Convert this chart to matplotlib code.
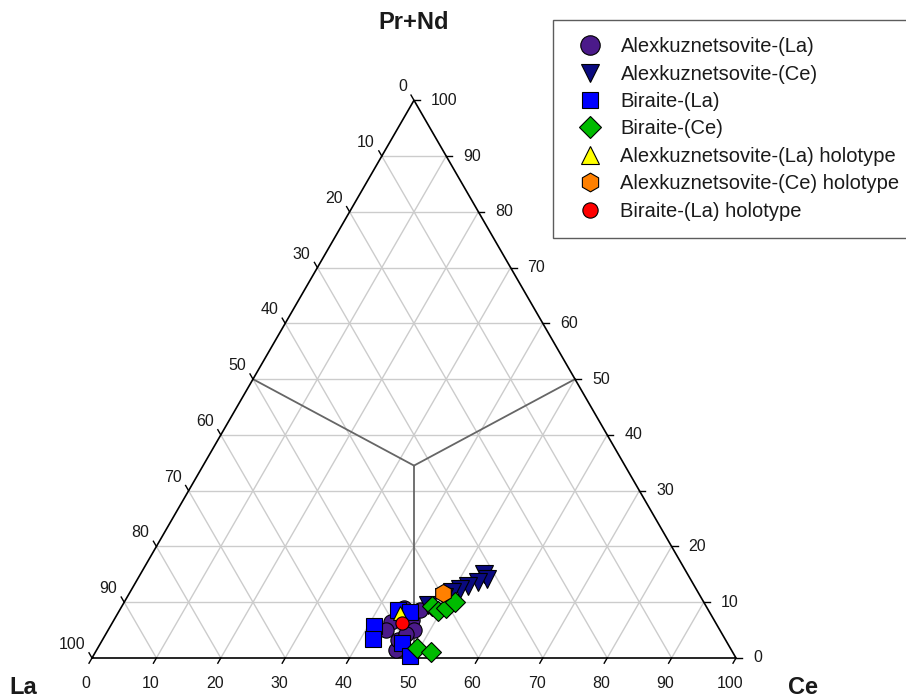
import numpy as np
import matplotlib
matplotlib.use("Agg")
import matplotlib.pyplot as plt
from matplotlib.lines import Line2D

plt.rcParams['font.family'] = ['Liberation Sans', 'DejaVu Sans']

# ---- data (La, Ce, Pr+Nd in %) ----
akLa_La = [50.3, 52.1, 46.9, 47.5, 47.1, 44.8, 50.9, 49.1, 51.8]
akLa_Ce = [43.2, 46.5, 46.3, 47.5, 43.9, 46.6, 45.9, 46.6, 43.2]
akLa_PN = [6.5, 1.4, 6.8, 5.0, 9.0, 8.6, 3.2, 4.3, 5.0]

akCe_La = [31.6, 31.6, 33.3, 35.2, 36.7, 38.2, 39.9, 43.1]
akCe_Ce = [53.3, 54.2, 53.1, 51.9, 50.9, 50.0, 49.2, 47.4]
akCe_PN = [15.1, 14.2, 13.6, 12.9, 12.4, 11.8, 10.9, 9.5]

biLa_La = [53.4, 54.7, 48.2, 46.5, 50.5, 50.4]
biLa_Ce = [40.9, 41.9, 43.2, 45.3, 46.8, 49.2]
biLa_PN = [5.7, 3.4, 8.6, 8.2, 2.7, 0.4]

biCe_La = [42.6, 42.1, 40.5, 38.6, 48.6, 46.8]
biCe_Ce = [48.1, 49.5, 50.5, 51.4, 49.6, 52.1]
biCe_PN = [9.3, 8.4, 9.0, 10.0, 1.8, 1.1]

hAkLa = (48.1, 43.8, 8.1)
hAkCe = (39.7, 48.7, 11.6)
hBiLa = (48.7, 45.0, 6.3)

ticks = list(range(0, 101, 10))
divide_center = (32.75, 32.75, 34.5)

H = np.sqrt(3) / 2


def tern(la, ce, pn):
    la = np.asarray(la, float); ce = np.asarray(ce, float); pn = np.asarray(pn, float)
    s = la + ce + pn
    return (ce + pn / 2) / s, pn / s * H


W, HH = 906, 699
fig = plt.figure(figsize=(W / 100, HH / 100), dpi=100)
ax = fig.add_axes([0, 0, 1, 1])
scale = 644.0
x0px, y0px = 92.0, 41.0
ax.set_xlim(-x0px / scale, (W - x0px) / scale)
ax.set_ylim(-y0px / scale, (HH - y0px) / scale)
ax.axis('off')

grid_c = '#cccccc'
for v in range(10, 100, 10):
    x, y = tern([100 - v, 0], [0, 100 - v], [v, v])
    ax.plot(x, y, color=grid_c, lw=1.0, zorder=1)
    x, y = tern([100 - v, 0], [v, v], [0, 100 - v])
    ax.plot(x, y, color=grid_c, lw=1.0, zorder=1)
    x, y = tern([v, v], [100 - v, 0], [0, 100 - v])
    ax.plot(x, y, color=grid_c, lw=1.0, zorder=1)

# dividing lines
cx, cy = tern(*divide_center)
for p in [(50, 0, 50), (0, 50, 50), (50, 50, 0)]:
    px, py = tern(*p)
    ax.plot([px, cx], [py, cy], color='#666666', lw=1.3, zorder=2)

# outline
x, y = tern([100, 0, 0, 100], [0, 100, 0, 0], [0, 0, 100, 0])
ax.plot(x, y, color='black', lw=1.2, zorder=3, solid_joinstyle='miter')

tl = 6.0 / scale
fs = 11.5
tc = '#1a1a1a'
for v in ticks:
    bx, by = tern(100 - v, v, 0)
    ax.plot([bx, bx - 0.5 * tl], [by, by - H * tl], color='black', lw=1.0, zorder=3)
    ax.annotate(str(v), (bx, by), xytext=(-6, -26), textcoords='offset pixels',
                ha='center', va='center', fontsize=fs, color=tc)
    lx, ly = tern(v, 0, 100 - v)
    ax.plot([lx, lx - 0.5 * tl], [ly, ly + H * tl], color='black', lw=1.0, zorder=3)
    ax.annotate(str(v), (lx, ly), xytext=(-7, 6), textcoords='offset pixels',
                ha='right', va='bottom', fontsize=fs, color=tc)
    rx, ry = tern(0, 100 - v, v)
    ax.plot([rx, rx + tl], [ry, ry], color='black', lw=1.0, zorder=3)
    ax.annotate(str(v), (rx, ry), xytext=(17, 0), textcoords='offset pixels',
                ha='left', va='center', fontsize=fs, color=tc)

# corner labels
lfs = 17
tx, ty = tern(0, 0, 100)
ax.annotate('Pr+Nd', (tx, ty), xytext=(0, 78), textcoords='offset pixels',
            ha='center', va='center', fontsize=lfs, fontweight='bold', color=tc)
lx, ly = tern(100, 0, 0)
ax.annotate('La', (lx, ly), xytext=(-69, -30), textcoords='offset pixels',
            ha='center', va='center', fontsize=lfs, fontweight='bold', color=tc)
rx, ry = tern(0, 100, 0)
ax.annotate('Ce', (rx, ry), xytext=(67, -30), textcoords='offset pixels',
            ha='center', va='center', fontsize=lfs, fontweight='bold', color=tc)

series = [
    ('Alexkuznetsovite-(La)', akLa_La, akLa_Ce, akLa_PN, 'o', '#4B1A8A', 11, 2),
    ('Alexkuznetsovite-(Ce)', akCe_La, akCe_Ce, akCe_PN, 'v', '#0A0A80', 13, 3),
    ('Biraite-(La)', biLa_La, biLa_Ce, biLa_PN, 's', '#0000FF', 11.5, 4),
    ('Biraite-(Ce)', biCe_La, biCe_Ce, biCe_PN, 'D', '#00BB00', 10, 5),
    ('Alexkuznetsovite-(La) holotype', [hAkLa[0]], [hAkLa[1]], [hAkLa[2]], '^', '#FFFF00', 9.5, 6),
    ('Alexkuznetsovite-(Ce) holotype', [hAkCe[0]], [hAkCe[1]], [hAkCe[2]], 'h', '#FF8000', 13, 7),
    ('Biraite-(La) holotype', [hBiLa[0]], [hBiLa[1]], [hBiLa[2]], 'o', '#FF0000', 9.5, 8),
]
leg_ms = [14, 13, 12, 11.5, 13, 13.5, 11]
handles = []
for (name, la, ce, pn, m, c, ms, z), lms in zip(series, leg_ms):
    x, y = tern(la, ce, pn)
    ax.plot(x, y, linestyle='none', marker=m, ms=ms, mfc=c, mec='black', mew=0.8, zorder=10 + z)
    handles.append(Line2D([], [], linestyle='none', marker=m, ms=lms, mfc=c, mec='black',
                          mew=0.8, label=name))

leg = fig.legend(handles=handles, loc='upper left',
                 bbox_to_anchor=(553 / W, 1 - 20 / HH), fontsize=14.5,
                 frameon=True, fancybox=False, edgecolor='#333333',
                 borderpad=0.85, labelspacing=0.42, handletextpad=0.5,
                 handlelength=2.0, borderaxespad=0)
leg.get_frame().set_linewidth(1.0)
for t in leg.get_texts():
    t.set_color(tc)

fig.savefig('out.png', dpi=100)
